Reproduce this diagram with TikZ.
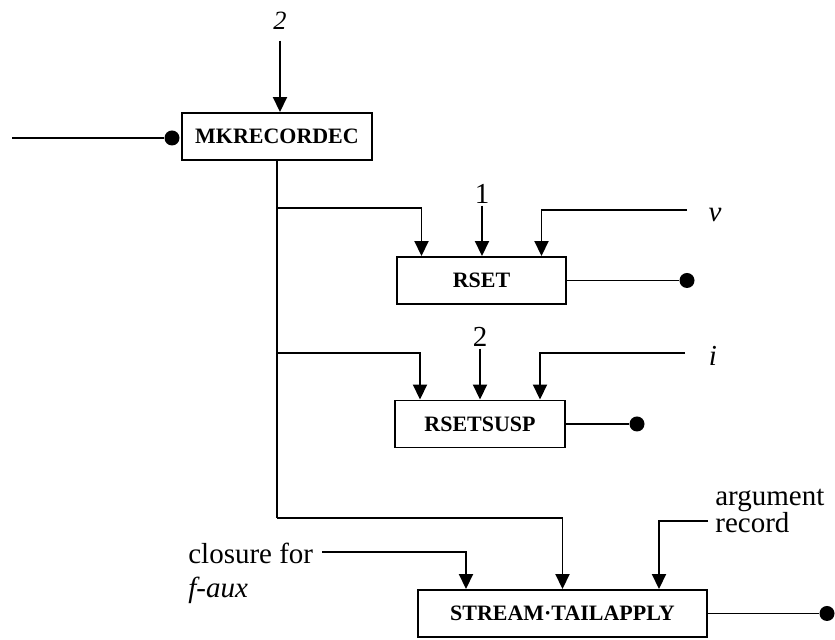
\documentclass[tikz,border=0pt]{standalone}
\usepackage{fontspec}
\setmainfont{Liberation Serif}
\usetikzlibrary{positioning,arrows.meta}
\tikzstyle{box}=[rectangle,draw=black,line width=1.1pt,minimum height=0.94cm,inner sep=0pt,font=\fontsize{12.5}{14}\selectfont\bfseries]
\tikzstyle{dot}=[circle,fill=black,inner sep=0pt,minimum size=0.3cm]
\tikzstyle{lbl}=[inner sep=0pt,font=\fontsize{16.5}{19.3}\selectfont]
\tikzstyle{num}=[inner sep=0pt,font=\fontsize{16.5}{18}\selectfont]
\tikzstyle{wire}=[line width=1.1pt]
\tikzstyle{arr}=[wire,-{Triangle[length=3mm,width=2.8mm]}]

\begin{document}
\begin{tikzpicture}[]
  \useasboundingbox (0,0) rectangle (16.7,-12.8);

  \node [box, minimum width=3.8cm]  at (5.54, -2.73)   (mk)       {MKRECORDEC};
  \node [box, minimum width=3.38cm] at (9.63, -5.61)   (rset)     {RSET};
  \node [box, minimum width=3.4cm]  at (9.6, -8.48)    (rsetsusp) {RSETSUSP};
  \node [box, minimum width=5.78cm] at (11.25, -12.27) (stream)   {STREAM·TAILAPPLY};

  \node [num, font=\fontsize{15}{17}\selectfont\itshape] at (5.6, -0.42) (two_top) {2};
  \node [num] at (9.64, -3.88) (one) {1};
  \node [num] at (9.6, -6.74)  (two) {2};
  \node [lbl, font=\fontsize{16.5}{19}\selectfont\itshape] at (14.3, -4.3)   (v) {v};
  \node [lbl, font=\fontsize{16.5}{19}\selectfont\itshape] at (14.26, -7.12) (i) {i};
  \node [lbl, align=left, anchor=north west] at (3.76, -10.86) (closure) {closure for\\\textit{f-aux}};
  \node [lbl, align=left, anchor=north west, font=\fontsize{16.5}{15.3}\selectfont] at (14.3, -9.78) (argrec) {argument\\record};

  % free ends and corners
  \coordinate (mk_in)      at (0.24, -2.76);
  \coordinate (br1)        at (5.54, -4.16);
  \coordinate (br2)        at (5.54, -7.06);
  \coordinate (trunk)      at (5.54, -10.36);
  \coordinate (v_in)       at (13.74, -4.2);
  \coordinate (i_in)       at (13.7, -7.06);
  \coordinate (closure_in) at (6.44, -11.04);
  \coordinate (arg_in)     at (14.16, -10.42);

  \node [dot] at (3.44, -2.76)   (mk_dot) {};
  \node [dot] at (13.74, -5.61)  (rset_dot) {};
  \node [dot] at (12.74, -8.48)  (rsetsusp_dot) {};
  \node [dot] at (16.54, -12.27) (stream_dot) {};

  \draw [wire] (mk_in) to (mk_dot);
  \draw [arr, shorten <=6pt] (two_top) to (two_top |- mk.north);
  \draw [wire] (mk) to (trunk);

  \draw [arr] (br1) -| ([xshift=-1.2cm]rset.north);
  \draw [arr, shorten <=1pt] (one) to (one |- rset.north);
  \draw [arr] (v_in) -| ([xshift=1.2cm]rset.north);
  \draw [wire] (rset) to (rset_dot);

  \draw [arr] (br2) -| ([xshift=-1.2cm]rsetsusp.north);
  \draw [arr, shorten <=1pt] (two) to (two |- rsetsusp.north);
  \draw [arr] (i_in) -| ([xshift=1.2cm]rsetsusp.north);
  \draw [wire] (rsetsusp) to (rsetsusp_dot);

  \draw [arr] (closure_in) -| ([xshift=-1.93cm]stream.north);
  \draw [arr] (trunk) -| (stream.north);
  \draw [arr] (arg_in) -| ([xshift=1.93cm]stream.north);
  \draw [wire] (stream) to (stream_dot);
\end{tikzpicture}
\end{document}
